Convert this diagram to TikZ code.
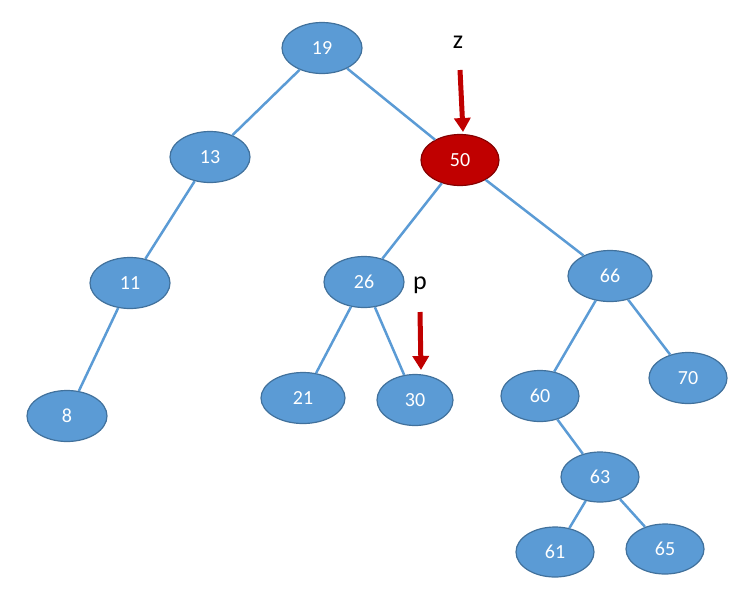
\documentclass[tikz,border=0pt]{standalone}
\usepackage{fontspec}
\setmainfont{Carlito}
\usetikzlibrary{arrows.meta,shapes.geometric}
\definecolor{nb}{HTML}{5B9BD5}
\definecolor{nbd}{HTML}{41719C}
\definecolor{rd}{HTML}{C00000}
\begin{document}
\begin{tikzpicture}[x=1pt,y=-1pt,
  nd/.style={ellipse,draw=nbd,fill=nb,line width=1.2pt,minimum width=80pt,minimum height=51pt,text=white,font=\fontsize{20}{24}\selectfont,inner sep=0pt},
  ed/.style={draw=nb,line width=2.5pt},
  ar/.style={draw=rd,line width=5pt,-{Triangle[length=14pt,width=16pt]}},
  lb/.style={font=\fontsize{26}{30}\selectfont}]
\useasboundingbox (0,0) rectangle (752,598);
\node[nd] (n19) at (322,48) {19};
\node[nd] (n13) at (210,157) {13};
\node[nd,fill=rd,draw=rd!70!black,minimum width=78pt] (n50) at (460,160) {50};
\node[nd] (n11) at (130,283) {11};
\node[nd] (n26) at (364,282) {26};
\node[nd,minimum width=84pt] (n66) at (610,276) {66};
\node[nd] (n8) at (67,416) {8};
\node[nd,minimum width=84pt] (n21) at (303,398) {21};
\node[nd,minimum width=76pt] (n30) at (415,400) {30};
\node[nd,minimum width=78pt] (n60) at (540,396) {60};
\node[nd,minimum width=78pt] (n70) at (688,378) {70};
\node[nd,minimum width=78pt,minimum height=50pt] (n63) at (600,477) {63};
\node[nd,minimum width=78pt,minimum height=50pt] (n61) at (555,552) {61};
\node[nd,minimum width=78pt,minimum height=50pt] (n65) at (665,549) {65};
\draw[ed] (n19) -- (n13);
\draw[ed] (n19) -- (n50);
\draw[ed] (n13) -- (n11);
\draw[ed] (n11) -- (n8);
\draw[ed] (n50) -- (n26);
\draw[ed] (n50) -- (n66);
\draw[ed] (n26) -- (n21);
\draw[ed] (n26) -- (n30);
\draw[ed] (n66) -- (n60);
\draw[ed] (n66) -- (n70);
\draw[ed] (n60) -- (n63);
\draw[ed] (n63) -- (n61);
\draw[ed] (n63) -- (n65);
\node[lb] (z) at (458,42) {z};
\coordinate (za) at (460,70);
\coordinate (zb) at (463,132);
\draw[ar] (za) -- (zb);
\node[lb] (p) at (420,285) {p};
\coordinate (pa) at (420,312);
\coordinate (pb) at (421,370);
\draw[ar] (pa) -- (pb);
\end{tikzpicture}
\end{document}
